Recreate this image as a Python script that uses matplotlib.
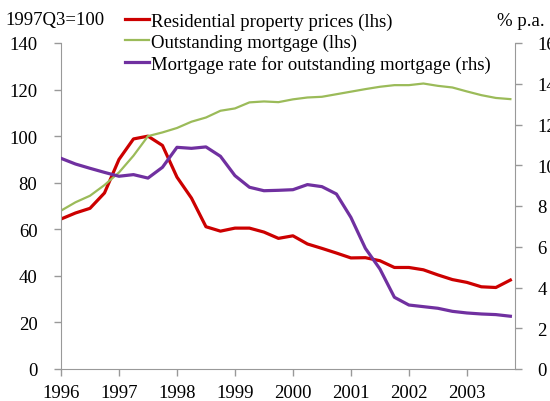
import matplotlib
matplotlib.use("Agg")
import matplotlib.pyplot as plt
import numpy as np

plt.rcParams['font.family'] = ['Liberation Serif', 'DejaVu Serif']

quarters = np.arange(32)
x_years = 1996 + quarters * 0.25

property_prices = [64.4, 67.0, 69.0, 75.6, 90.0, 98.8, 100.0, 96.0,
                   82.4, 73.4, 61.1, 59.2, 60.5, 60.5, 58.8, 56.1,
                   57.2, 53.7, 51.8, 49.8, 47.7, 47.8, 46.5, 43.6,
                   43.6, 42.6, 40.4, 38.4, 37.2, 35.3, 35.0, 38.2]
outstanding_mortgage = [68.0, 71.6, 74.4, 79.0, 84.4, 91.6, 100.0, 101.6,
                        103.5, 106.2, 108.0, 110.9, 111.9, 114.5, 114.9, 114.6,
                        115.8, 116.6, 116.9, 118.0, 119.1, 120.2, 121.2, 121.9,
                        121.9, 122.6, 121.6, 120.9, 119.2, 117.6, 116.4, 115.9]
mortgage_rate = [10.34, 10.06, 9.85, 9.65, 9.46, 9.54, 9.37, 9.90,
                 10.88, 10.83, 10.90, 10.44, 9.49, 8.92, 8.75, 8.77,
                 8.80, 9.05, 8.95, 8.59, 7.44, 5.92, 4.91, 3.52,
                 3.14, 3.06, 2.98, 2.83, 2.75, 2.70, 2.67, 2.59]

year_ticks = [1996, 1997, 1998, 1999, 2000, 2001, 2002, 2003]
left_ticks = [0, 20, 40, 60, 80, 100, 120, 140]
right_ticks = [0, 2, 4, 6, 8, 10, 12, 14, 16]

labels = ['Residential property prices (lhs)', 'Outstanding mortgage (lhs)',
          'Mortgage rate for outstanding mortgage (rhs)']
colors = ['#CC0000', '#9BBB59', '#7030A0']

W, H = 550, 402
fig = plt.figure(figsize=(W / 100, H / 100), dpi=100)
ax = fig.add_axes([61 / W, (H - 370) / H, (515 - 61) / W, (370 - 44) / H])
ax2 = ax.twinx()

l1, = ax.plot(x_years, property_prices, color=colors[0], lw=2.3, solid_joinstyle='round')
l2, = ax.plot(x_years, outstanding_mortgage, color=colors[1], lw=1.6)
l3, = ax2.plot(x_years, mortgage_rate, color=colors[2], lw=2.3, solid_joinstyle='round')

ax.set_xlim(1996, 2003.83)
ax.set_ylim(0, 140)
ax2.set_ylim(0, 16)
ax.set_xticks(year_ticks)
ax.set_yticks(left_ticks)
ax2.set_yticks(right_ticks)

spine_col = '#999999'
for a in (ax, ax2):
    a.spines['top'].set_visible(False)
    for s in ('left', 'right', 'bottom'):
        a.spines[s].set_color(spine_col)
    a.tick_params(colors=spine_col, labelcolor='black', labelsize=13.5, length=5, width=1)
ax.spines['right'].set_visible(False)
ax2.spines['left'].set_visible(False)
ax2.spines['bottom'].set_visible(False)
ax.tick_params(axis='y', pad=12)
ax2.tick_params(axis='y', pad=11)
ax.tick_params(axis='x', pad=6)
for lab in ax2.get_yticklabels():
    lab.set_horizontalalignment('left')

fig.text(5 / W, 1 - 21 / H, '1997Q3=100', fontsize=13.5, va='center', ha='left')
fig.text(497 / W, 1 - 21 / H, '% p.a.', fontsize=13.5, va='center', ha='left')

fig.legend([l1, l2, l3], labels, loc='upper left', bbox_to_anchor=(117 / W, 1 - 6 / H),
           frameon=False, fontsize=13.5, handlelength=1.3, handletextpad=0.1,
           labelspacing=0.2, borderaxespad=0)

fig.savefig('out.png', dpi=100)
